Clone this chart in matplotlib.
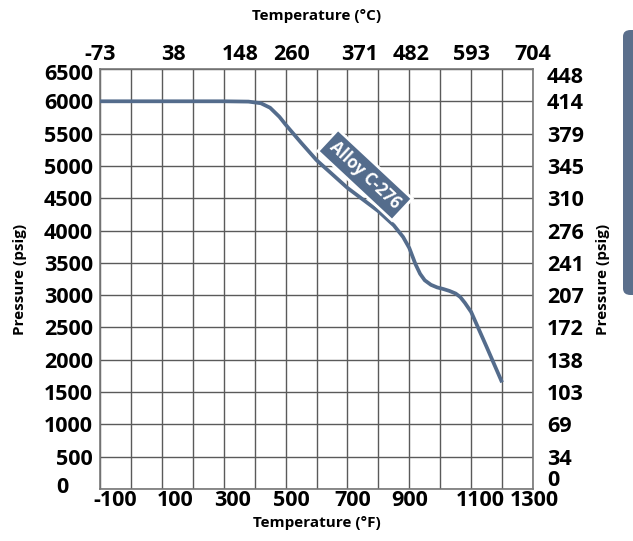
import numpy as np
import matplotlib
matplotlib.use('Agg')
import matplotlib.pyplot as plt
from matplotlib.patches import FancyBboxPatch
from matplotlib.transforms import ScaledTranslation

plt.rcParams['font.family'] = ['Open Sans', 'DejaVu Sans']

# 数据: 温度(°F) - 压力(psig)
temp_f = [-100, 300, 380, 420, 450, 480, 500, 550, 600, 700, 800, 850, 880,
          900, 920, 935, 950, 970, 990, 1010, 1030, 1050, 1065, 1080, 1100, 1150, 1200]
pressure = [6000, 6000, 5995, 5970, 5900, 5760, 5640, 5360, 5090, 4660, 4300,
            4080, 3900, 3730, 3480, 3330, 3230, 3160, 3120, 3095, 3065, 3025, 2970,
            2880, 2740, 2200, 1650]

x_ticks = [-100, 100, 300, 500, 700, 900, 1100, 1300]
c_labels = ['-73', '38', '148', '260', '371', '482', '593', '704']
y_ticks = list(range(0, 7000, 500))
bar_labels = ['0', '34', '69', '103', '138', '172', '207', '241', '276',
              '310', '345', '379', '414', '448']

# 标签偏移(像素), 仿原图排版
bot_shift = [15, 13, 9, 6, 5, 0, 9, 1]
top_shift = [0, 12, 16, 6, 12, 2, 0, 0]

line_color = '#546c8c'
grid_color = '#5a5a5a'
fs = 15.5


def shift(lab, dx, dy):
    lab.set_transform(lab.get_transform() + ScaledTranslation(dx / 100, dy / 100, fig.dpi_scale_trans))


fig = plt.figure(figsize=(6.33, 5.41), dpi=100)
ax = fig.add_axes([0.158, 0.0961, 0.684, 0.7764])

ax.plot(temp_f, pressure, color=line_color, lw=2.7, solid_capstyle='butt', zorder=3)

ax.set_xlim(-100, 1300)
ax.set_ylim(0, 6500)
ax.set_xticks(np.arange(-100, 1301, 100), minor=True)
ax.set_xticks(x_ticks)
ax.set_xticklabels([str(v) for v in x_ticks])
ax.set_yticks(y_ticks)
ax.set_yticklabels([str(v) for v in y_ticks])
ax.grid(True, which='both', axis='x', color=grid_color, lw=1.0)
ax.grid(True, which='major', axis='y', color=grid_color, lw=1.0)
ax.set_axisbelow(True)
for s in ax.spines.values():
    s.set_color('#777777')
    s.set_linewidth(1.2)
ax.tick_params(which='both', length=0, labelsize=fs)
ax.tick_params(axis='x', pad=1)
ax.tick_params(axis='y', pad=5)
for lab in ax.get_xticklabels() + ax.get_yticklabels():
    lab.set_fontweight('bold')
for lab, dx in zip(ax.get_xticklabels(), bot_shift):
    shift(lab, dx, 0)
ylabs = ax.get_yticklabels()
shift(ylabs[0], -25, 4)
shift(ylabs[-1], 0, -3)

# 上轴 °C
ax_top = ax.twiny()
ax_top.set_xlim(ax.get_xlim())
ax_top.set_xticks(x_ticks)
ax_top.set_xticklabels(c_labels, fontsize=fs, fontweight='bold')
ax_top.tick_params(length=0, pad=3)
ax_top.set_xlabel('Temperature (°C)', fontsize=11, fontweight='bold', labelpad=17)
for lab, dx in zip(ax_top.get_xticklabels(), top_shift):
    shift(lab, dx, 0)

# 右轴
ax_r = ax.twinx()
ax_r.set_ylim(ax.get_ylim())
ax_r.set_yticks(y_ticks)
ax_r.set_yticklabels(bar_labels, fontsize=fs, fontweight='bold')
ax_r.tick_params(length=0, pad=10)
ax_r.set_ylabel('Pressure (psig)', fontsize=11, fontweight='bold', labelpad=9)
rlabs = ax_r.get_yticklabels()
shift(rlabs[0], 0, 11)
shift(rlabs[-1], 0, -6)
for a in (ax_top, ax_r):
    for s in a.spines.values():
        s.set_visible(False)

ax.set_xlabel('Temperature (°F)', fontsize=11, fontweight='bold', labelpad=3)
ax.set_ylabel('Pressure (psig)', fontsize=11, fontweight='bold', labelpad=12)

# 曲线标签
ax.text(757, 4860, 'Alloy C-276', rotation=-43, ha='center', va='center',
        color='white', fontsize=12, fontweight='bold', zorder=5,
        bbox=dict(boxstyle='square,pad=0.35', fc=line_color, ec='white', lw=2))

# 右侧灰色标签
tab = FancyBboxPatch((623 / 633, 246 / 541), 20 / 633, 265 / 541,
                     boxstyle='round,pad=0,rounding_size=0.012',
                     transform=fig.transFigure, fc='#5b6f8c', ec='none')
fig.patches.append(tab)

fig.savefig('out.png', dpi=100)
